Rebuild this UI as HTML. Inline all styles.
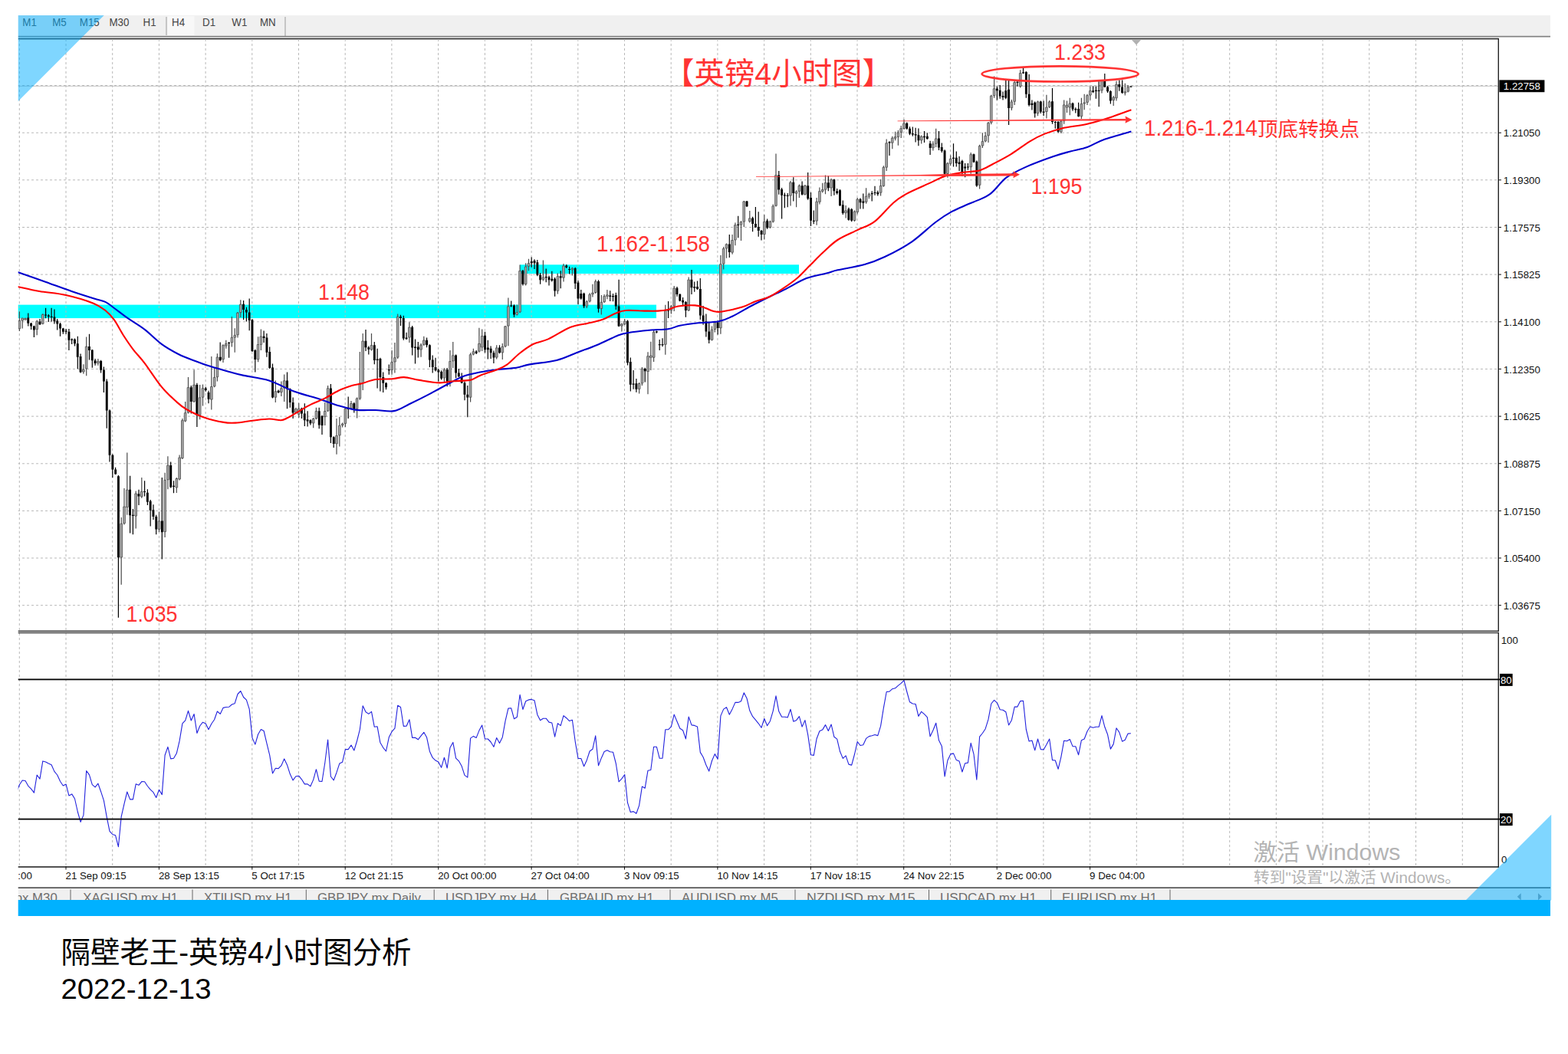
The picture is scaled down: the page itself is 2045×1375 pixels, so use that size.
<!DOCTYPE html>
<html><head><meta charset="utf-8"><title>GBP H4</title>
<style>html,body{margin:0;padding:0;background:#fff;}body{width:2045px;height:1375px;overflow:hidden;font-family:"Liberation Sans",sans-serif;}svg{display:block}</style>
</head><body>
<svg width="2045" height="1375" viewBox="0 0 2045 1375" font-family='"Liberation Sans", sans-serif'>
<rect x="0" y="0" width="2045" height="1375" fill="#fff"/>
<rect x="23.5" y="20" width="1998.5" height="27" fill="#f0f0f0"/>
<rect x="218.5" y="21" width="35" height="25" fill="#f8f8f8"/>
<rect x="216.5" y="22" width="1" height="24" fill="#9a9a9a"/>
<rect x="371.5" y="22" width="1" height="26" fill="#9a9a9a"/>
<text transform="translate(29.3,33.7) scale(0.92,1)" font-size="14.5" fill="#444" font-family='"Liberation Sans", sans-serif'>M1</text>
<text transform="translate(68.2,33.7) scale(0.92,1)" font-size="14.5" fill="#444" font-family='"Liberation Sans", sans-serif'>M5</text>
<text transform="translate(103.8,33.7) scale(0.92,1)" font-size="14.5" fill="#444" font-family='"Liberation Sans", sans-serif'>M15</text>
<text transform="translate(142.5,33.7) scale(0.92,1)" font-size="14.5" fill="#444" font-family='"Liberation Sans", sans-serif'>M30</text>
<text transform="translate(186.5,33.7) scale(0.92,1)" font-size="14.5" fill="#444" font-family='"Liberation Sans", sans-serif'>H1</text>
<text transform="translate(224,33.7) scale(0.92,1)" font-size="14.5" fill="#444" font-family='"Liberation Sans", sans-serif'>H4</text>
<text transform="translate(264,33.7) scale(0.92,1)" font-size="14.5" fill="#444" font-family='"Liberation Sans", sans-serif'>D1</text>
<text transform="translate(302.3,33.7) scale(0.92,1)" font-size="14.5" fill="#444" font-family='"Liberation Sans", sans-serif'>W1</text>
<text transform="translate(339,33.7) scale(0.92,1)" font-size="14.5" fill="#444" font-family='"Liberation Sans", sans-serif'>MN</text>
<rect x="23" y="46.8" width="1999" height="1.7" fill="#808080"/>
<rect x="23" y="49.8" width="1931.5" height="1.6" fill="#2a2a2a"/>
<rect x="23" y="397.6" width="833" height="17.5" fill="#00ffff"/>
<rect x="678" y="345.3" width="364" height="11.7" fill="#00ffff"/>
<path d="M1907.3 51 V822.5 M1907.3 826 V1130.5 M1846.6 51 V822.5 M1846.6 826 V1130.5 M1785.8 51 V822.5 M1785.8 826 V1130.5 M1725.1 51 V822.5 M1725.1 826 V1130.5 M1664.4 51 V822.5 M1664.4 826 V1130.5 M1603.7 51 V822.5 M1603.7 826 V1130.5 M1543 51 V822.5 M1543 826 V1130.5 M1482.3 51 V822.5 M1482.3 826 V1130.5 M1421.6 51 V822.5 M1421.6 826 V1130.5 M1360.9 51 V822.5 M1360.9 826 V1130.5 M1300.2 51 V822.5 M1300.2 826 V1130.5 M1239.5 51 V822.5 M1239.5 826 V1130.5 M1178.8 51 V822.5 M1178.8 826 V1130.5 M1118 51 V822.5 M1118 826 V1130.5 M1057.3 51 V822.5 M1057.3 826 V1130.5 M996.6 51 V822.5 M996.6 826 V1130.5 M935.9 51 V822.5 M935.9 826 V1130.5 M875.2 51 V822.5 M875.2 826 V1130.5 M814.5 51 V822.5 M814.5 826 V1130.5 M753.8 51 V822.5 M753.8 826 V1130.5 M693.1 51 V822.5 M693.1 826 V1130.5 M632.4 51 V822.5 M632.4 826 V1130.5 M571.6 51 V822.5 M571.6 826 V1130.5 M510.9 51 V822.5 M510.9 826 V1130.5 M450.2 51 V822.5 M450.2 826 V1130.5 M389.5 51 V822.5 M389.5 826 V1130.5 M328.8 51 V822.5 M328.8 826 V1130.5 M268.1 51 V822.5 M268.1 826 V1130.5 M207.4 51 V822.5 M207.4 826 V1130.5 M146.7 51 V822.5 M146.7 826 V1130.5 M86 51 V822.5 M86 826 V1130.5 M25.3 51 V822.5 M25.3 826 V1130.5 M23 111.5 H1954 M23 173.2 H1954 M23 234.8 H1954 M23 296.5 H1954 M23 358.1 H1954 M23 419.8 H1954 M23 481.4 H1954 M23 543.1 H1954 M23 604.8 H1954 M23 666.4 H1954 M23 728 H1954 M23 789.7 H1954" stroke="#b8b8b8" stroke-width="1" stroke-dasharray="3 3" fill="none"/>
<rect x="23" y="111.8" width="1931" height="1" fill="#c2c2c2"/>
<rect x="1953.6" y="50" width="1.4" height="774.1" fill="#222"/>
<rect x="1953.6" y="825" width="1.4" height="306.6" fill="#222"/>
<rect x="23" y="1130.2" width="1932" height="1.5" fill="#1a1a1a"/>
<rect x="23" y="822.6" width="1932" height="1.5" fill="#2c2c2c"/>
<rect x="23" y="825" width="1932" height="1.2" fill="#2c2c2c"/>
<path d="M36.8 408.6 V425.5 M40.6 421.1 V429.9 M44.4 424.7 V439.9 M52 415.9 V424 M59.6 401.7 V415.2 M63.3 410.1 V419.9 M67.1 401.7 V419.6 M70.9 403.5 V422.5 M74.7 415.9 V430.6 M78.5 421.1 V438.7 M82.3 427.7 V435.7 M86.1 429.1 V435.7 M89.9 429.1 V457 M93.7 441.6 V448.9 M97.5 441.6 V451.4 M101.3 438.7 V481.2 M105.1 461.4 V486.4 M116.5 435.7 V469.5 M120.3 456 V479.8 M124.1 468 V476.8 M131.6 469.8 V486.4 M135.4 478.6 V512 M139.2 494.4 V558.7 M143 534.3 V602.5 M146.8 592.6 V623 M150.6 609.8 V619 M154.4 620.1 V805.7 M169.6 620.8 V695.4 M173.4 664.1 V697.2 M181 638.8 V659.1 M188.6 627.2 V647.6 M192.4 638.2 V659.1 M196.2 652 V686.6 M200 658.2 V678 M203.7 671.8 V697.2 M211.3 623 V729.5 M222.7 602.5 V636.6 M226.5 627.2 V643.2 M249.3 503.1 V539.5 M256.9 499.8 V557.1 M268.3 504.7 V510.8 M272 509.7 V526.2 M287.2 446.6 V471.2 M298.6 445.9 V466.8 M317.6 392 V417.3 M321.4 400.8 V419.5 M325.2 389.4 V431.2 M329 416.2 V459.1 M332.8 455.8 V485.5 M344.1 431.6 V447 M347.9 434.9 V465.7 M351.7 452.5 V481.1 M355.5 474.5 V519.6 M363.1 508.6 V513 M374.5 485.5 V533.3 M378.3 506.4 V531.8 M382.1 518.5 V546.1 M393.5 531.8 V546.1 M397.3 526.2 V556 M401.1 536.2 V556.6 M404.9 547.2 V554.4 M416.2 531.8 V559.3 M420 541.7 V567 M431.4 500.9 V578 M435.2 569.2 V583.9 M454.2 517.4 V546.1 M461.8 525.1 V538.4 M477 429.9 V458 M480.8 451.4 V462.4 M488.3 445.9 V475.2 M492.1 454.7 V506.4 M495.9 466.8 V510.4 M499.7 485.5 V511.9 M503.5 498.7 V508.2 M507.3 475.6 V488.8 M522.5 410.7 V425 M526.3 411.8 V443.7 M530.1 433.8 V443.1 M537.7 425 V463.5 M541.5 442.6 V474.5 M545.3 445.9 V466.4 M556.6 440.4 V453.2 M560.4 449.2 V478.9 M564.2 463.5 V486.6 M568 466.8 V484.4 M571.8 481.1 V497.6 M575.6 483.3 V495.4 M583.2 480 V504.2 M594.6 462.4 V493.2 M598.4 481.1 V492.1 M602.2 486.6 V500.3 M606 497.6 V522.3 M609.8 503.1 V544.3 M621.2 456.9 V462 M632.5 432.7 V460.2 M636.3 443.7 V468.6 M640.1 451.4 V467.9 M643.9 457.6 V473.9 M651.5 450.3 V461.3 M666.7 392.4 V400.6 M670.5 397.3 V413.8 M681.9 352.1 V372.6 M693.2 335.6 V348.8 M697 338.3 V351 M700.8 338.9 V360.3 M704.6 355.9 V370.8 M712.2 350.6 V368.2 M716 359.8 V372.6 M719.8 353.7 V367.5 M723.6 362 V386.7 M731.2 353.2 V376.3 M738.8 344.9 V349.9 M742.6 347.7 V357.6 M750.2 348.8 V377 M754 366 V397.3 M757.8 377.9 V390.7 M761.6 381.8 V402.1 M780.5 365.3 V407.8 M795.7 379.2 V392.9 M799.5 382.9 V393.3 M803.3 381.8 V403.9 M807.1 364.7 V426.3 M818.5 417.5 V476.5 M822.3 466.6 V510.6 M826.1 483.1 V507.7 M829.9 494.1 V511.7 M841.2 479.8 V498.5 M856.4 431.4 V434.7 M860.2 443 V457.1 M864 441.3 V452.3 M871.6 392.9 V414.9 M883 374.1 V386.7 M886.8 382.9 V393.3 M890.6 388 V399.5 M894.4 392.9 V413.8 M902 352.1 V384 M905.7 367.5 V380.7 M909.5 366.4 V377.9 M913.3 363.1 V417.1 M917.1 399 V423.7 M920.9 409.4 V439.5 M924.7 421 V447.9 M936.1 418.8 V436.4 M951.3 305.9 V336.1 M962.7 281.7 V310.3 M974 261.9 V270.1 M981.6 282.8 V302.2 M985.4 270.1 V297.1 M989.2 276.2 V308.8 M993 300 V313.6 M1000.6 285.6 V298.8 M1015.8 222.9 V253.7 M1019.6 244.9 V285.6 M1023.4 251.5 V271.3 M1027.2 251.9 V270.2 M1034.8 231.2 V262.5 M1046.1 236.5 V254.8 M1053.7 225.1 V260.7 M1057.5 251 V295 M1061.3 274.6 V292.2 M1080.3 229.5 V249.3 M1087.9 233.4 V254.8 M1091.7 246 V253.7 M1095.5 247.1 V269.1 M1099.3 261.4 V280.1 M1106.9 270.8 V287.8 M1110.7 271.7 V289.3 M1122 258.5 V272.4 M1125.8 252.6 V272.4 M1137.2 249.3 V262.5 M1141 242.7 V254.8 M1144.8 248.8 V255.4 M1160 184.3 V203 M1182.8 159.5 V168.9 M1186.5 165.2 V176.2 M1190.3 165.6 V177.7 M1194.1 166.7 V185.4 M1197.9 167.4 V190.3 M1205.5 171.1 V185.9 M1209.3 173.3 V182.1 M1213.1 183.7 V201.9 M1224.5 171.1 V196 M1228.3 186.5 V199.1 M1232.1 195.3 V227.7 M1243.5 187.2 V217.4 M1247.3 197.5 V217.4 M1251.1 204.1 V222.9 M1254.9 208.5 V229.9 M1258.6 212.9 V231.2 M1262.4 212.9 V221.8 M1270 200.4 V212.3 M1273.8 209.6 V243.8 M1300.4 112.8 V130.4 M1304.2 111.1 V128.7 M1308 119.4 V130.4 M1311.8 105.1 V129.3 M1315.6 105.1 V163 M1326.9 105.1 V112.8 M1334.5 89 V96.3 M1338.3 93 V127.8 M1342.1 97 V138.8 M1345.9 130.4 V143.6 M1349.7 132.6 V153.5 M1357.3 131.5 V148 M1361.1 131.5 V151.3 M1372.5 115 V161.7 M1376.3 157.9 V167.8 M1380.1 157.9 V173.3 M1399 133.7 V144.7 M1402.8 140.3 V147.6 M1406.6 133.7 V152.4 M1425.6 112.4 V121.2 M1429.4 112.8 V128.7 M1433.2 105.1 V139.2 M1440.8 96 V114 M1444.6 112.2 V121 M1448.4 118.1 V135.4 M1459.8 104.6 V118.7 M1463.6 104.6 V122.2 M1474.9 112.7 V113.6" stroke="#000" stroke-width="1.2" fill="none"/>
<path d="M25.4 406.4 V432.1 M29.2 414.8 V428.4 M33 414.5 V417.8 M48.2 417.4 V437.2 M55.8 409.3 V423.3 M108.9 475.3 V487.8 M112.7 439.4 V490.3 M127.9 468 V476.8 M158.2 675.1 V762.7 M162 637.1 V684.6 M165.8 590.4 V671.8 M177.2 640.6 V689.5 M184.8 623 V649.8 M207.5 667.4 V693.9 M215.1 616.8 V700.9 M218.9 595.3 V638.2 M230.3 623.1 V642.9 M234.1 593.4 V626.4 M237.9 546.1 V598.9 M241.7 524 V550.5 M245.5 492.1 V539.5 M253.1 482.2 V525.1 M260.7 502 V547.2 M264.5 501.6 V529.6 M275.8 465.1 V534.6 M279.6 480 V505.3 M283.4 461.3 V497.6 M291 449.2 V473 M294.8 443.7 V454.7 M302.4 412.9 V452.5 M306.2 428.3 V459.8 M310 407 V440.4 M313.8 391.3 V414 M336.6 439.3 V472.3 M340.4 429.4 V456.9 M359.3 496.5 V525.1 M366.9 497.6 V517 M370.7 488.4 V524 M385.9 531.8 V539.5 M389.7 525.8 V545 M408.7 545 V558.2 M412.4 531.8 V547.2 M423.8 525.1 V554.9 M427.6 503.1 V537.3 M439 546.1 V592.7 M442.8 543.9 V582.4 M446.6 551.6 V557.5 M450.4 531.8 V557.1 M458 522.9 V534 M465.6 518.5 V545.6 M469.4 459.1 V521.8 M473.2 434.9 V509.1 M484.5 434.9 V457.6 M511.1 456.9 V488.8 M514.9 447 V486.6 M518.7 409.6 V467.9 M533.9 420.2 V447 M549.1 448.1 V465.7 M552.8 438.7 V451 M579.4 480 V498.7 M587 456.9 V504.2 M590.8 445.9 V480 M613.6 460.2 V524.5 M617.4 454.7 V463.5 M624.9 427.7 V459.8 M628.7 429.4 V458 M647.7 450.3 V468.6 M655.3 448.1 V469 M659.1 425 V453.2 M662.9 388.5 V451.2 M674.3 397.5 V411.6 M678.1 345.5 V408.3 M685.7 343.3 V372.6 M689.5 337.8 V353.2 M708.4 339.6 V366.4 M727.4 356.5 V383.6 M735 344 V367.5 M746.4 348.8 V359.4 M765.3 391.8 V402.1 M769.1 382.3 V394.6 M772.9 370.8 V387.4 M776.7 364.7 V382.9 M784.3 385.1 V410.5 M788.1 384 V395.1 M791.9 377.9 V390.2 M810.9 421.5 V432.5 M814.7 416 V424.1 M833.6 498.9 V513.5 M837.4 479.1 V502.9 M845 459.3 V514.3 M848.8 445.7 V483.1 M852.6 430.7 V472.1 M867.8 397.7 V462.8 M875.4 397.7 V409.4 M879.2 373 V406.1 M898.2 361.6 V406.1 M928.5 425.4 V444.6 M932.3 418.8 V433.6 M939.9 333 V435.8 M943.7 322 V351.5 M947.5 317.6 V336.7 M955.1 305.9 V331.7 M958.9 290.5 V320.2 M966.5 288.3 V314.1 M970.3 261.9 V296 M977.8 275.1 V290.5 M996.8 280.2 V312.5 M1004.4 287.8 V298.1 M1008.2 266.4 V290.6 M1012 200.4 V269.5 M1031 236.1 V268.6 M1038.6 248.2 V270.2 M1042.4 240.5 V258.1 M1049.9 240.9 V254.8 M1065.1 258.1 V293.7 M1068.9 244.4 V266.4 M1072.7 238.7 V251.5 M1076.5 228.4 V253.2 M1084.1 232.8 V255.9 M1103.1 268 V284.5 M1114.5 274.6 V288.9 M1118.2 258.1 V279.6 M1129.6 245.3 V265.8 M1133.4 251.5 V259.2 M1148.6 233.9 V255.4 M1152.4 216.2 V243.8 M1156.2 181.5 V222.9 M1163.8 177.7 V194.2 M1167.6 171.8 V183.2 M1171.4 170 V189.8 M1175.2 163.9 V179.9 M1179 155.7 V168.9 M1201.7 176.6 V187.6 M1216.9 184.3 V196.4 M1220.7 167.8 V192 M1235.9 211.8 V231.7 M1239.7 202.6 V216.2 M1266.2 199.1 V226.8 M1277.6 188.7 V246.6 M1281.4 173.3 V193.1 M1285.2 172.2 V185.4 M1289 159 V185.9 M1292.8 123.8 V162.3 M1296.6 99.6 V127.8 M1319.4 130 V144.1 M1323.2 105.8 V137 M1330.7 91.2 V114.6 M1353.5 131.5 V151.3 M1364.9 123.8 V154.6 M1368.7 130.9 V141 M1383.9 156.8 V174 M1387.7 130.4 V161.7 M1391.5 131.5 V146.9 M1395.3 127.8 V150.2 M1410.4 127.8 V155.1 M1414.2 122.7 V143.2 M1418 122.7 V137 M1421.8 112.8 V130.4 M1437 104.6 V121.6 M1452.2 125.1 V138 M1456 105.8 V131.6 M1467.3 108.7 V124.5 M1471.1 111 V120.4" stroke="#4a4a4a" stroke-width="1.2" fill="none"/>
<path d="M35.3 414.5h2.9V421.8h-2.9zM39.1 421.8h2.9V425.5h-2.9zM42.9 425.5h2.9V430.6h-2.9zM50.5 419.6h2.9V423.3h-2.9zM58.1 410.4h2.9V411.6h-2.9zM61.9 411.5h2.9V413h-2.9zM65.7 412.8h2.9V414h-2.9zM69.5 413.4h2.9V419.3h-2.9zM73.3 418.4h2.9V422.5h-2.9zM77.1 422.5h2.9V428.4h-2.9zM80.9 428.4h2.9V432.8h-2.9zM84.7 431.5h2.9V432.7h-2.9zM88.5 432.8h2.9V443.8h-2.9zM92.3 442.5h2.9V443.7h-2.9zM96 442.8h2.9V448.2h-2.9zM99.8 448.2h2.9V465.8h-2.9zM103.6 465.1h2.9V485.6h-2.9zM115 451.9h2.9V457h-2.9zM118.8 456.6h2.9V470.2h-2.9zM122.6 470.2h2.9V473.9h-2.9zM130.2 470.9h2.9V482.7h-2.9zM134 482.4h2.9V497.4h-2.9zM137.8 497.4h2.9V535.5h-2.9zM141.6 535.4h2.9V593.7h-2.9zM145.4 593.7h2.9V612.4h-2.9zM149.2 612.4h2.9V618.4h-2.9zM153 621.2h2.9V727.3h-2.9zM168.1 638.8h2.9V672.3h-2.9zM171.9 671.7h2.9V672.9h-2.9zM179.5 644.3h2.9V647.6h-2.9zM187.1 640.9h2.9V642.1h-2.9zM190.9 642.8h2.9V654.7h-2.9zM194.7 653.8h2.9V665.7h-2.9zM198.5 665.2h2.9V674h-2.9zM202.3 674h2.9V690.6h-2.9zM209.9 679.6h2.9V694.3h-2.9zM221.3 606.9h2.9V635.5h-2.9zM225.1 633.8h2.9V635h-2.9zM247.8 505.3h2.9V524h-2.9zM255.4 502h2.9V541.7h-2.9zM266.8 506.4h2.9V509.1h-2.9zM270.6 511.9h2.9V520.7h-2.9zM285.8 465.7h2.9V470.1h-2.9zM297.2 446.9h2.9V448.1h-2.9zM316.1 396.8h2.9V404.1h-2.9zM319.9 404.1h2.9V407.4h-2.9zM323.7 407.4h2.9V418h-2.9zM327.5 417.3h2.9V458h-2.9zM331.3 456.9h2.9V469h-2.9zM342.7 438.7h2.9V440.9h-2.9zM346.5 440.4h2.9V459.8h-2.9zM350.3 459.1h2.9V480h-2.9zM354.1 479.6h2.9V518.5h-2.9zM361.7 509.7h2.9V511.9h-2.9zM373.1 496.5h2.9V507.5h-2.9zM376.8 507.5h2.9V525.1h-2.9zM380.6 525.1h2.9V538.4h-2.9zM392 532.9h2.9V539.5h-2.9zM395.8 539.5h2.9V548.3h-2.9zM399.6 547.2h2.9V549.4h-2.9zM403.4 548.3h2.9V552.2h-2.9zM414.8 536.2h2.9V554.4h-2.9zM418.6 542.8h2.9V554.9h-2.9zM430 506.4h2.9V570.3h-2.9zM433.8 570.3h2.9V579.1h-2.9zM452.7 531.8h2.9V534h-2.9zM460.3 526.2h2.9V534h-2.9zM475.5 444.8h2.9V453.2h-2.9zM479.3 453.2h2.9V455.8h-2.9zM486.9 450.3h2.9V470.1h-2.9zM490.7 468.6h2.9V470.1h-2.9zM494.5 467.9h2.9V492.1h-2.9zM498.3 492.1h2.9V499.8h-2.9zM502.1 499.8h2.9V505.3h-2.9zM505.9 482.1h2.9V483.3h-2.9zM521 412.9h2.9V415.1h-2.9zM524.8 415.1h2.9V441.5h-2.9zM528.6 440.4h2.9V442.2h-2.9zM536.2 426.8h2.9V453.6h-2.9zM540 452.5h2.9V454.1h-2.9zM543.8 452.5h2.9V456.3h-2.9zM555.2 443.7h2.9V450.3h-2.9zM559 450.3h2.9V469.5h-2.9zM562.8 469.5h2.9V478.9h-2.9zM566.6 478.9h2.9V483.3h-2.9zM570.4 482.7h2.9V485.5h-2.9zM574.2 484.9h2.9V493.7h-2.9zM581.8 482.2h2.9V497.6h-2.9zM593.1 463.5h2.9V486.6h-2.9zM596.9 486.6h2.9V491h-2.9zM600.7 491h2.9V499.4h-2.9zM604.5 499.4h2.9V514.8h-2.9zM608.3 514.8h2.9V518.5h-2.9zM619.7 458.5h2.9V460.7h-2.9zM631.1 437.8h2.9V456.3h-2.9zM634.9 453.6h2.9V456.3h-2.9zM638.7 454.7h2.9V460.2h-2.9zM642.5 460.2h2.9V466.4h-2.9zM650.1 453.6h2.9V460.2h-2.9zM665.2 398.4h2.9V399.6h-2.9zM669 398.4h2.9V410.5h-2.9zM680.4 353.2h2.9V370.8h-2.9zM691.8 341.1h2.9V343.3h-2.9zM695.6 340h2.9V343.3h-2.9zM699.4 342.2h2.9V358.7h-2.9zM703.2 358.7h2.9V365.3h-2.9zM710.8 361h2.9V362.2h-2.9zM714.6 361.6h2.9V365.3h-2.9zM718.4 363.8h2.9V366h-2.9zM722.2 363.8h2.9V379.6h-2.9zM729.7 360.3h2.9V362.5h-2.9zM737.3 346.6h2.9V348.8h-2.9zM741.1 350.9h2.9V352.1h-2.9zM748.7 349.9h2.9V369.7h-2.9zM752.5 368.6h2.9V389.6h-2.9zM756.3 382.9h2.9V389.6h-2.9zM760.1 382.9h2.9V399.5h-2.9zM779.1 366.9h2.9V402.8h-2.9zM794.3 385.6h2.9V386.9h-2.9zM798 386.1h2.9V387.3h-2.9zM801.8 385.1h2.9V399.5h-2.9zM805.6 399.5h2.9V425.4h-2.9zM817 418.8h2.9V473.2h-2.9zM820.8 472.1h2.9V501.8h-2.9zM824.6 500.5h2.9V501.7h-2.9zM828.4 500.2h2.9V507.7h-2.9zM839.8 480.9h2.9V484.2h-2.9zM855 432.3h2.9V433.5h-2.9zM858.8 449h2.9V450.2h-2.9zM862.6 449h2.9V450.2h-2.9zM870.1 404.4h2.9V405.6h-2.9zM881.5 375.7h2.9V384h-2.9zM885.3 384h2.9V392.4h-2.9zM889.1 391.8h2.9V394.6h-2.9zM892.9 394h2.9V405h-2.9zM900.5 364.7h2.9V375.2h-2.9zM904.3 374.1h2.9V375.7h-2.9zM908.1 374.1h2.9V377h-2.9zM911.9 377h2.9V411.6h-2.9zM915.7 411.6h2.9V419.3h-2.9zM919.5 419.3h2.9V432.5h-2.9zM923.3 432.5h2.9V443.5h-2.9zM934.7 420.4h2.9V428.1h-2.9zM949.8 318.5h2.9V329h-2.9zM961.2 292.8h2.9V294h-2.9zM972.6 262.6h2.9V269.2h-2.9zM980.2 284.6h2.9V292.1h-2.9zM984 292.1h2.9V296.5h-2.9zM987.8 296h2.9V300.9h-2.9zM991.6 300.9h2.9V305.9h-2.9zM999.2 287.8h2.9V297.2h-2.9zM1014.3 228.4h2.9V247.5h-2.9zM1018.1 247.1h2.9V254.8h-2.9zM1021.9 254.2h2.9V255.4h-2.9zM1025.7 254.8h2.9V256h-2.9zM1033.3 237.8h2.9V251.9h-2.9zM1044.7 242.2h2.9V253.7h-2.9zM1052.3 242.2h2.9V259.2h-2.9zM1056.1 258.1h2.9V287.8h-2.9zM1059.9 287.8h2.9V289h-2.9zM1078.8 238.3h2.9V245.3h-2.9zM1086.4 234.3h2.9V249.3h-2.9zM1090.2 249.3h2.9V251.9h-2.9zM1094 248.2h2.9V268h-2.9zM1097.8 267.3h2.9V277.9h-2.9zM1105.4 272.4h2.9V286.7h-2.9zM1109.2 273h2.9V287.8h-2.9zM1120.6 259.8h2.9V264.2h-2.9zM1124.4 262.5h2.9V264.7h-2.9zM1135.8 252h2.9V253.2h-2.9zM1139.6 250.9h2.9V252.1h-2.9zM1143.4 251h2.9V253.2h-2.9zM1158.5 185.3h2.9V186.5h-2.9zM1181.3 160.8h2.9V167.8h-2.9zM1185.1 167.8h2.9V174.4h-2.9zM1188.9 174h2.9V175.5h-2.9zM1192.7 174.9h2.9V176.6h-2.9zM1196.5 176.2h2.9V183.2h-2.9zM1204.1 177.7h2.9V179.3h-2.9zM1207.9 177.7h2.9V181h-2.9zM1211.7 187.2h2.9V193.1h-2.9zM1223 180.6h2.9V192.5h-2.9zM1226.8 192h2.9V196.9h-2.9zM1230.6 196.4h2.9V226.8h-2.9zM1242 205.7h2.9V206.9h-2.9zM1245.8 205.7h2.9V212.9h-2.9zM1249.6 211.4h2.9V214h-2.9zM1253.4 210.1h2.9V225.1h-2.9zM1257.2 217.4h2.9V219.6h-2.9zM1261 217.4h2.9V218.6h-2.9zM1268.6 201.3h2.9V211.4h-2.9zM1272.4 210.7h2.9V242.2h-2.9zM1298.9 115.5h2.9V118.3h-2.9zM1302.7 117.7h2.9V125.6h-2.9zM1306.5 124.9h2.9V127.1h-2.9zM1310.3 118.3h2.9V127.8h-2.9zM1314.1 116.8h2.9V141h-2.9zM1325.5 106.7h2.9V107.9h-2.9zM1333.1 94.2h2.9V95.4h-2.9zM1336.9 94.1h2.9V122.7h-2.9zM1340.7 122.7h2.9V137h-2.9zM1344.5 134.8h2.9V137h-2.9zM1348.3 133.7h2.9V148h-2.9zM1355.9 132.6h2.9V145.8h-2.9zM1359.6 145.4h2.9V146.9h-2.9zM1371 132.2h2.9V159h-2.9zM1374.8 158.9h2.9V160.1h-2.9zM1378.6 159h2.9V171.8h-2.9zM1397.6 134.8h2.9V142.5h-2.9zM1401.4 141.9h2.9V143.6h-2.9zM1405.2 141.9h2.9V152h-2.9zM1424.2 118.3h2.9V119.9h-2.9zM1428 117.7h2.9V118.9h-2.9zM1431.7 117.7h2.9V118.9h-2.9zM1439.3 105.2h2.9V113.4h-2.9zM1443.1 113.4h2.9V119.2h-2.9zM1446.9 119h2.9V131.6h-2.9zM1458.3 109.9h2.9V113.4h-2.9zM1462.1 113.4h2.9V121h-2.9zM1473.5 112.5h2.9V113.7h-2.9z" fill="#000"/>
<path d="M24 418.4h2.7V428.8h-2.7zM27.8 415.1h2.7V418.1h-2.7zM31.6 415.5h2.7V417.1h-2.7zM46.8 419.2h2.7V429.6h-2.7zM54.4 410.4h2.7V422.2h-2.7zM107.5 482.3h2.7V485h-2.7zM111.3 452.2h2.7V480.9h-2.7zM126.5 471.5h2.7V473.6h-2.7zM156.9 683.2h2.7V727h-2.7zM160.7 661.1h2.7V682.6h-2.7zM164.5 639.1h2.7V661.6h-2.7zM175.8 644h2.7V673.1h-2.7zM183.4 641.3h2.7V647.8h-2.7zM206.2 679.9h2.7V690.3h-2.7zM213.8 626.4h2.7V693.6h-2.7zM217.6 607.2h2.7V625.8h-2.7zM229 624.5h2.7V636h-2.7zM232.8 597h2.7V625h-2.7zM236.5 548.6h2.7V597.5h-2.7zM240.3 538.7h2.7V549.1h-2.7zM244.1 505.6h2.7V538.1h-2.7zM251.7 502.3h2.7V523.7h-2.7zM259.3 518.8h2.7V541.4h-2.7zM263.1 506.7h2.7V518.2h-2.7zM274.5 504.5h2.7V521.1h-2.7zM278.3 492.4h2.7V503.9h-2.7zM282.1 466h2.7V491.8h-2.7zM289.7 450.6h2.7V468.7h-2.7zM293.5 448.4h2.7V451.1h-2.7zM301.1 440.3h2.7V446.7h-2.7zM304.9 437.4h2.7V440.1h-2.7zM308.6 408.2h2.7V436.8h-2.7zM312.4 397.1h2.7V407.6h-2.7zM335.2 449.5h2.7V468.7h-2.7zM339 439h2.7V449.4h-2.7zM358 510.7h2.7V518.2h-2.7zM365.6 506.7h2.7V511.6h-2.7zM369.4 496.8h2.7V506.1h-2.7zM384.5 533.6h2.7V538.1h-2.7zM388.3 533.2h2.7V540.3h-2.7zM407.3 546.4h2.7V551.9h-2.7zM411.1 536.5h2.7V545.8h-2.7zM422.5 536.5h2.7V543.6h-2.7zM426.3 506.7h2.7V535.9h-2.7zM437.7 568.4h2.7V578.8h-2.7zM441.5 555.2h2.7V567.8h-2.7zM445.3 553h2.7V554.6h-2.7zM449 533.2h2.7V552.4h-2.7zM456.6 526.5h2.7V532.6h-2.7zM464.2 519.9h2.7V533.7h-2.7zM468 500.1h2.7V519.8h-2.7zM471.8 445.1h2.7V499.5h-2.7zM483.2 450.6h2.7V456h-2.7zM509.8 472.6h2.7V482.4h-2.7zM513.6 466.7h2.7V472h-2.7zM517.3 413.2h2.7V466.1h-2.7zM532.5 427.1h2.7V440.1h-2.7zM547.7 450h2.7V456h-2.7zM551.5 444h2.7V449.4h-2.7zM578.1 482.5h2.7V492.9h-2.7zM585.7 471.5h2.7V497.3h-2.7zM589.4 463.8h2.7V470.9h-2.7zM612.2 462.7h2.7V518.2h-2.7zM616 458.8h2.7V462.1h-2.7zM623.6 448.4h2.7V458.2h-2.7zM627.4 438.5h2.7V452.9h-2.7zM646.4 453.9h2.7V466.1h-2.7zM654 452.2h2.7V459.9h-2.7zM657.7 425.8h2.7V451.6h-2.7zM661.5 399.8h2.7V425.1h-2.7zM672.9 407.5h2.7V410.2h-2.7zM676.7 353.5h2.7V406.9h-2.7zM684.3 348h2.7V370.5h-2.7zM688.1 343.6h2.7V347.4h-2.7zM707.1 361.9h2.7V364.4h-2.7zM726.1 360.6h2.7V379.3h-2.7zM733.6 346.9h2.7V362.2h-2.7zM745 350.2h2.7V351.8h-2.7zM764 393.6h2.7V399.2h-2.7zM767.8 384.3h2.7V393h-2.7zM771.6 382.1h2.7V383.7h-2.7zM775.4 367.2h2.7V381.5h-2.7zM783 394.3h2.7V402.5h-2.7zM786.8 386.6h2.7V393.7h-2.7zM790.6 384.8h2.7V386.4h-2.7zM809.5 422.9h2.7V425.1h-2.7zM813.3 419.1h2.7V422.9h-2.7zM832.3 500.5h2.7V507.4h-2.7zM836.1 481.2h2.7V499.9h-2.7zM843.7 464.7h2.7V484.5h-2.7zM847.5 464h2.7V466.3h-2.7zM851.3 433.2h2.7V466.3h-2.7zM866.5 405.3h2.7V449.3h-2.7zM874 399.8h2.7V404.7h-2.7zM877.8 376h2.7V399.2h-2.7zM896.8 365h2.7V404.7h-2.7zM927.2 430.1h2.7V443.2h-2.7zM931 420.7h2.7V429.5h-2.7zM938.5 344.7h2.7V427.8h-2.7zM942.3 324.5h2.7V344.1h-2.7zM946.1 318.8h2.7V323.9h-2.7zM953.7 313.5h2.7V329.2h-2.7zM957.5 293.7h2.7V312.9h-2.7zM965.1 289.7h2.7V293.1h-2.7zM968.9 262.9h2.7V289.1h-2.7zM976.5 284.9h2.7V288.7h-2.7zM995.5 289.3h2.7V305.6h-2.7zM1003.1 289.2h2.7V296.3h-2.7zM1006.9 268.9h2.7V289h-2.7zM1010.6 228.7h2.7V268.3h-2.7zM1029.6 238.1h2.7V255.1h-2.7zM1037.2 250h2.7V252.3h-2.7zM1041 242.5h2.7V249.4h-2.7zM1048.6 242.5h2.7V253.4h-2.7zM1063.8 263.2h2.7V288.1h-2.7zM1067.6 249.6h2.7V263.3h-2.7zM1071.4 247.4h2.7V249.4h-2.7zM1075.2 238.6h2.7V247.2h-2.7zM1082.7 234.6h2.7V245h-2.7zM1101.7 274.9h2.7V277.6h-2.7zM1113.1 276h2.7V287.5h-2.7zM1116.9 260.1h2.7V276.5h-2.7zM1128.3 256.2h2.7V263.3h-2.7zM1132.1 253.5h2.7V256h-2.7zM1147.3 242.5h2.7V251.2h-2.7zM1151 218.3h2.7V242.4h-2.7zM1154.8 186.8h2.7V218.2h-2.7zM1162.4 180.2h2.7V186.2h-2.7zM1166.2 178.7h2.7V180.3h-2.7zM1170 173h2.7V178.5h-2.7zM1173.8 167.7h2.7V172.4h-2.7zM1177.6 161.1h2.7V167.5h-2.7zM1200.4 178h2.7V182.9h-2.7zM1215.6 187.9h2.7V192.8h-2.7zM1219.3 180.9h2.7V187.3h-2.7zM1234.5 213.2h2.7V226.5h-2.7zM1238.3 207.3h2.7V213.3h-2.7zM1264.9 201.6h2.7V217.7h-2.7zM1276.3 190.6h2.7V241.3h-2.7zM1280.1 184.6h2.7V190h-2.7zM1283.9 177.4h2.7V184h-2.7zM1287.7 160.4h2.7V176.8h-2.7zM1291.4 125.2h2.7V159.8h-2.7zM1295.2 115.8h2.7V124.6h-2.7zM1318 132.9h2.7V140.7h-2.7zM1321.8 107.6h2.7V132.3h-2.7zM1329.4 95.5h2.7V112.5h-2.7zM1352.2 132.9h2.7V147.7h-2.7zM1363.5 140h2.7V145.5h-2.7zM1367.3 132.9h2.7V139.4h-2.7zM1382.5 158.2h2.7V171.9h-2.7zM1386.3 136.9h2.7V157.6h-2.7zM1390.1 137.3h2.7V140h-2.7zM1393.9 135.1h2.7V140h-2.7zM1409.1 135.6h2.7V151.7h-2.7zM1412.9 134h2.7V135h-2.7zM1416.7 124.6h2.7V133.4h-2.7zM1420.5 118.6h2.7V124h-2.7zM1435.6 105.5h2.7V117.8h-2.7zM1450.8 127.2h2.7V130.7h-2.7zM1454.6 110.2h2.7V127.8h-2.7zM1466 119.8h2.7V121.1h-2.7zM1469.8 113.7h2.7V119.2h-2.7z" fill="#a6a6a6" stroke="#4c4c4c" stroke-width="0.8"/>
<path d="M23 355C29.2 357.2 48.3 363.8 60 368C71.7 372.2 82.8 376.4 93.3 380C103.8 383.6 115.3 387.2 122.7 389.5C130.1 391.8 133 391.8 137.4 393.9C141.8 396 144.1 398.4 149 402C153.9 405.6 160.1 410.6 166.7 415.2C173.3 419.8 181.4 424.3 188.7 429.9C196 435.5 203.4 443.5 210.7 448.9C218 454.2 225.4 458.3 232.7 462C240 465.7 247.8 468.4 254.7 471C261.6 473.6 266.7 475.5 274 477.8C281.3 480.1 291.4 482.9 298.7 484.9C306 486.9 309.3 488 318 489.9C326.7 491.8 340 493 351 496.5C362 500 373 506.8 384 510.8C395 514.8 407.8 517.8 417 520.7C426.2 523.6 431.3 526.1 439 528.4C446.7 530.7 454.9 533.5 463.3 534.6C471.8 535.7 481.3 534.8 489.7 535C498.1 535.2 506.6 537.4 513.9 536.1C521.2 534.8 526 531 533.7 527.3C541.4 523.6 551.2 518.7 560 514.1C568.8 509.5 579.2 503.7 586.5 499.8C593.8 495.9 597.4 493.4 604 491C610.6 488.6 618.7 487 626 485.5C633.3 484 640.1 483.1 648 482.2C655.9 481.2 666.1 480.9 673.2 479.8C680.3 478.7 682 477 690.8 475.4C699.6 473.8 715.7 472.5 726 469.9C736.3 467.3 743.6 463.3 752.4 460C761.2 456.7 770 453.7 778.8 450C787.6 446.3 798.6 440.6 805.2 438C811.8 435.4 811.4 435.4 818.4 434.2C825.4 433 838.2 431.5 847 430.7C855.8 429.9 864.7 430.2 871.3 429.2C877.9 428.2 880.5 426.1 886.7 424.8C892.9 423.5 900.3 422.4 908.7 421.5C917.1 420.6 929.6 420.8 937.3 419.3C945 417.8 947.9 416 954.9 412.7C961.9 409.4 970.9 403.7 979 399.5C987.1 395.3 996 390.9 1003.3 387.3C1010.6 383.7 1014.9 381.9 1023 377.9C1031.1 373.9 1042.5 366.7 1051.7 363.1C1060.9 359.5 1071.2 358.3 1078 356.5C1084.8 354.7 1084.1 354.2 1092.4 352.3C1100.7 350.4 1117.3 347.9 1127.6 345C1137.9 342.1 1143.7 339.9 1154 335C1164.3 330.1 1178.3 322.8 1189.3 315.3C1200.3 307.8 1211.2 296.6 1220 290C1228.8 283.4 1234.7 279.7 1242 275.7C1249.3 271.7 1255.9 269.5 1264 265.8C1272.1 262.1 1282.4 259.4 1290.5 253.7C1298.6 248 1304.4 237.8 1312.5 231.7C1320.6 225.6 1328.8 222 1339 217.4C1349.2 212.8 1364.5 207.3 1374 204C1383.5 200.7 1388.7 199.5 1396 197.5C1403.3 195.5 1410.7 194.6 1418 192C1425.3 189.4 1430.4 185.4 1440 182C1449.6 178.6 1469.5 173.2 1475.4 171.5" fill="none" stroke="#0000cd" stroke-width="2.1"/>
<path d="M23 374C27.8 375 41 378.2 51.5 380C62 381.8 74.4 382.4 86 385C97.6 387.6 112.6 392.1 121.2 395.4C129.8 398.7 132.8 401.3 137.4 405C142 408.7 145.1 412 149 417.4C152.9 422.8 156.6 430.7 160.8 437.2C165 443.7 169.3 450.2 174 456.3C178.7 462.4 182.6 465.8 188.7 473.9C194.8 482 203.8 496.3 210.7 504.7C217.6 513 224.6 519.1 230 524C235.4 528.9 237 530.5 243.2 534C249.4 537.5 259.3 542.2 267.4 545C275.5 547.8 285 549.8 291.6 550.9C298.2 552 300.8 552 307 551.6C313.2 551.2 321.7 549.6 329 548.7C336.3 547.9 344.8 546.6 351 546.5C357.2 546.4 362.4 548.5 366.4 548.3C370.4 548 371.5 546.8 375.2 545C378.9 543.2 383.3 540.2 388.4 537.3C393.5 534.4 400.1 530.3 406 527.4C411.9 524.5 417.8 522.6 423.7 519.6C429.6 516.6 435.4 512.5 441.3 509.7C447.2 506.9 453.8 504.7 458.9 503.1C464 501.5 466.9 501.7 472 500.3C477.1 498.9 483.1 496 489.7 495C496.3 494 505.5 494.8 511.7 494.3C517.9 493.8 521.1 491.8 527 492.1C532.9 492.4 539.2 494.7 546.9 495.9C554.6 497.1 566 499.2 573.3 499.4C580.6 499.6 584.3 497.8 590.9 497.2C597.5 496.6 607 497.1 612.9 495.9C618.8 494.7 620.1 492.2 626 489.9C631.9 487.6 642.1 484.6 648 482.2C653.9 479.8 656.4 479.1 661.3 475.6C666.2 472.1 672 465.4 677.6 461C683.2 456.6 689 452.1 695.2 449C701.4 445.9 706.9 446.1 715 442.4C723.1 438.7 735.2 430.4 743.6 427C752 423.6 758.6 423.6 765.6 421.9C772.6 420.2 779.2 419.2 785.4 417C791.6 414.8 797.9 410.7 803 408.7C808.1 406.7 810 405.5 816.2 405C822.5 404.5 833.5 405.5 840.5 405.6C847.5 405.7 852.9 405.9 858 405.6C863.1 405.3 866.9 404.9 871.3 403.9C875.7 402.9 878.6 400.4 884.5 399.5C890.4 398.6 900.6 398 906.5 398.4C912.4 398.8 915.7 400.4 919.7 401.7C923.7 403 927 405.2 930.7 406C934.4 406.8 935.5 407.4 941.7 406.5C947.9 405.6 960.7 402.9 968 400.6C975.3 398.3 979.8 395.1 985.7 392.9C991.6 390.7 997.1 390.2 1003.3 387.3C1009.5 384.4 1016.8 379.4 1023 375.2C1029.2 371 1035.2 366.8 1040.7 362C1046.2 357.2 1050.5 352.1 1056 346.6C1061.5 341.1 1067.6 334.6 1073.7 329C1079.8 323.4 1084.9 317.9 1092.4 313C1099.9 308.1 1110.7 303.9 1118.8 299.9C1126.9 295.9 1133.1 294.8 1140.8 288.9C1148.5 283 1158 270.8 1165 264.7C1172 258.6 1175 256.8 1182.7 252.6C1190.4 248.4 1202.9 243.2 1211.3 239.4C1219.7 235.6 1226 231.9 1233.3 229.5C1240.6 227.1 1248 226.2 1255.3 225C1262.6 223.8 1270.7 224.2 1277.3 222.4C1283.9 220.6 1288 217.6 1294.9 214C1301.9 210.4 1310.9 205.8 1319 200.8C1327.1 195.9 1336 188.7 1343.3 184.3C1350.6 179.9 1356 177.2 1363 174.4C1370 171.6 1375.8 169.5 1385 167.4C1394.2 165.3 1407.2 164.2 1418 161.7C1428.8 159.2 1440.4 155.5 1450 152.4C1459.6 149.3 1471.2 144.8 1475.4 143.3" fill="none" stroke="#ff0000" stroke-width="2.1"/>
<polyline points="21.6,1033.2 25.4,1023.8 29.2,1018 33,1018.5 36.8,1025.3 40.6,1029.1 44.4,1034.2 48.2,1011 52,1016.1 55.8,992.9 59.6,994.1 63.3,996 67.1,997.7 70.9,1006.4 74.7,1011 78.5,1019.2 82.3,1025 86.1,1023.1 89.9,1037.9 93.7,1035.9 97.5,1042 101.3,1059 105.1,1072.4 108.9,1063.4 112.7,1005.6 116.5,1010.9 120.3,1023.6 124.1,1026.8 127.9,1022.2 131.6,1032.7 135.4,1044.3 139.2,1065.7 143,1084.3 146.8,1088.5 150.6,1089.8 154.4,1104.7 158.2,1065.3 162,1048.6 165.8,1033 169.6,1042.9 173.4,1042.9 177.2,1022.8 181,1024.3 184.8,1019.6 188.6,1019.7 192.4,1025.5 196.2,1030.2 200,1033.7 203.7,1040.5 207.5,1030.2 211.3,1036.6 215.1,985.3 218.9,974.4 222.7,989.9 226.5,989.2 230.3,982.8 234.1,966.7 237.9,943.9 241.7,939.8 245.5,927.3 249.3,940 253.1,931.6 256.9,956.5 260.7,947 264.5,942.2 268.3,943.9 272,951.7 275.8,944.2 279.6,938.8 283.4,928 287.2,931.4 291,923.4 294.8,922.5 298.6,922.3 302.4,919 306.2,917.7 310,905.5 313.8,901.5 317.6,909.5 321.4,913.2 325.2,925.1 329,962.6 332.8,971.1 336.6,958 340.4,951.5 344.1,953.5 347.9,969.7 351.7,985.1 355.5,1008.9 359.3,1002.3 363.1,1002.6 366.9,998.7 370.7,989.9 374.5,997.9 378.3,1009.8 382.1,1017.9 385.9,1012.7 389.7,1012.2 393.5,1016.8 397.3,1022.9 401.1,1022.9 404.9,1025.8 408.7,1017.1 412.4,1003.7 416.2,1019.1 420,1019.5 423.8,995 427.6,965 431.4,1013 435.2,1017.9 439,1007.7 442.8,996.1 446.6,994.2 450.4,977.6 454.2,977.6 458,972 461.8,979 465.6,966.5 469.4,951.3 473.2,920.8 477,928.8 480.8,931.4 484.5,928.4 488.3,948.3 492.1,947.8 495.9,968.8 499.7,975.3 503.5,980 507.3,961.8 511.1,954.4 514.9,950.2 518.7,920.3 522.5,922.5 526.3,947.4 530.1,947.3 533.9,938.7 537.7,962.4 541.5,962.2 545.3,964.8 549.1,959.8 552.8,955.3 556.6,962.1 560.4,980.2 564.2,988.4 568,992.1 571.8,994.1 575.6,1001.3 579.4,988.2 583.2,1002 587,975.2 590.8,968.4 594.6,989.2 598.4,992.8 602.2,999.6 606,1011.4 609.8,1014.1 613.6,963.1 617.4,960.4 621.2,962.4 624.9,953.1 628.7,946.1 632.5,964 636.3,964 640.1,968 643.9,974.3 647.7,962.5 651.5,969.6 655.3,961.7 659.1,940.4 662.9,924.1 666.7,923.8 670.5,937.8 674.3,935.5 678.1,906.4 681.9,925.5 685.7,914.8 689.5,912.9 693.2,912.4 697,913.7 700.8,932.2 704.6,939.7 708.4,937.2 712.2,937.2 716,942.1 719.8,943 723.6,961.2 727.4,943.7 731.2,946.6 735,933.6 738.8,936.7 742.6,940.6 746.4,939.2 750.2,967.3 754,989.5 757.8,989.5 761.6,999.8 765.3,991.7 769.1,980 772.9,977.3 776.7,959.9 780.5,998.8 784.3,988.9 788.1,980.6 791.9,978.7 795.7,980.7 799.5,981.2 803.3,996 807.1,1019.9 810.9,1015.9 814.7,1010.5 818.5,1047.2 822.3,1059.5 826.1,1058.6 829.9,1061.3 833.6,1050.9 837.4,1026.1 841.2,1028.2 845,1005.2 848.8,1004.5 852.6,974.3 856.4,974.3 860.2,989.3 864,989.3 867.8,951.8 871.6,951.8 875.4,947.8 879.2,932.1 883,941.3 886.8,950.3 890.6,952.7 894.4,963.9 898.2,935.1 902,945.9 905.7,946.4 909.5,947.9 913.3,981.4 917.1,987.7 920.9,998 924.7,1006.1 928.5,992.5 932.3,983.6 936.1,990.1 939.9,933.9 943.7,925.1 947.5,922.7 951.3,932.2 955.1,924.9 958.9,916.4 962.7,916.4 966.5,914.7 970.3,903.7 974,910.9 977.8,927.1 981.6,934.7 985.4,939.2 989.2,943.8 993,949.3 996.8,937.5 1000.6,946.7 1004.4,940.7 1008.2,927.7 1012,907.8 1015.8,928.1 1019.6,935.3 1023.4,935.3 1027.2,936 1031,925.3 1034.8,941.2 1038.6,939.7 1042.4,934.6 1046.1,948.1 1049.9,939.6 1053.7,958.6 1057.5,984.8 1061.3,985.4 1065.1,963.7 1068.9,953.7 1072.7,952.1 1076.5,945.6 1080.3,953.4 1084.1,945 1087.9,961.3 1091.7,964.1 1095.5,980.3 1099.3,989.4 1103.1,985.9 1106.9,997.1 1110.7,998.1 1114.5,984 1118.2,967.6 1122,972.5 1125.8,971.7 1129.6,963.4 1133.4,960.6 1137.2,959.8 1141,958.5 1144.8,959.6 1148.6,947.2 1152.4,923.4 1156.2,902.5 1160,902.1 1163.8,898.7 1167.6,897.8 1171.4,894.4 1175.2,891.4 1179,887.7 1182.8,902.5 1186.5,915.8 1190.3,918 1194.1,918.5 1197.9,934.4 1201.7,928.3 1205.5,931.7 1209.3,935.6 1213.1,960.8 1216.9,952.8 1220.7,943.2 1224.5,965.8 1228.3,973.4 1232.1,1012.9 1235.9,992 1239.7,983.9 1243.5,982.9 1247.3,991.6 1251.1,993.1 1254.9,1007 1258.6,995.8 1262.4,995.1 1266.2,969.3 1270,983.8 1273.8,1017.2 1277.6,961.2 1281.4,956.5 1285.2,950.7 1289,938.4 1292.8,918 1296.6,913.4 1300.4,916.8 1304.2,925.8 1308,926.3 1311.8,928.7 1315.6,946 1319.4,939.4 1323.2,922.1 1326.9,922.1 1330.7,914.6 1334.5,914.3 1338.3,951.5 1342.1,967 1345.9,966 1349.7,978.8 1353.5,964 1357.3,977.6 1361.1,977.9 1364.9,971.2 1368.7,964 1372.5,991.6 1376.3,992 1380.1,1003.3 1383.9,987.3 1387.7,966.2 1391.5,966.7 1395.3,964.5 1399,973.6 1402.8,973.8 1406.6,984.8 1410.4,965.7 1414.2,964 1418,954 1421.8,948 1425.6,949.2 1429.4,948.3 1433.2,948.3 1437,933.6 1440.8,948.3 1444.6,958.3 1448.4,977.1 1452.2,970.6 1456,949.8 1459.8,955.4 1463.6,967.2 1467.3,965.2 1471.1,957.1 1474.9,956.8" fill="none" stroke="#2222dd" stroke-width="1.1" stroke-linejoin="round"/>
<rect x="23" y="885.5" width="1933" height="1.8" fill="#000"/>
<rect x="23" y="1067.7" width="1933" height="1.8" fill="#000"/>
<ellipse cx="1382.6" cy="96.4" rx="102" ry="10.1" fill="none" stroke="#ff3333" stroke-width="2.7"/>
<polygon points="1170.6,157.5 1260,156.8 1400,155.6 1466,154.9 1468.5,154.9 1468.5,157.5 1466,157.6 1400,157.6 1260,158 1170.6,158.3" fill="#ff3333"/><polygon points="1476.5,156.2 1467.5,151.6 1468.3,156.2 1467.5,160.8" fill="#ff3333"/>
<polygon points="986,230.2 1120,228.9 1200,228.1 1235,227.1 1320,226.2 1322.4,226.2 1322.4,229.4 1320,229.4 1235,229.9 1200,229.6 1120,230.1 986,231" fill="#ff3333"/><polygon points="1330,227.7 1321.4,223.3 1322.2,227.8 1321.4,232.3" fill="#ff3333"/>
<text x="1375" y="77.9" font-size="29.5" fill="#ff3333" textLength="67" lengthAdjust="spacingAndGlyphs" font-family='"Liberation Sans", sans-serif'>1.233</text>
<text x="1492" y="176.7" font-size="29.5" fill="#ff3333" textLength="148" lengthAdjust="spacingAndGlyphs" font-family='"Liberation Sans", sans-serif'>1.216-1.214</text>
<text x="1640" y="177.5" font-size="26.7" fill="#ff3333" textLength="133" lengthAdjust="spacingAndGlyphs" font-family='"Liberation Sans", "Noto Sans CJK SC", sans-serif'>顶底转换点</text>
<text x="1344.5" y="252.7" font-size="29.5" fill="#ff3333" textLength="67" lengthAdjust="spacingAndGlyphs" font-family='"Liberation Sans", sans-serif'>1.195</text>
<text x="778" y="327.7" font-size="29.5" fill="#ff3333" textLength="148" lengthAdjust="spacingAndGlyphs" font-family='"Liberation Sans", sans-serif'>1.162-1.158</text>
<text x="415" y="391.2" font-size="29.5" fill="#ff3333" textLength="67" lengthAdjust="spacingAndGlyphs" font-family='"Liberation Sans", sans-serif'>1.148</text>
<text x="164.5" y="811.4" font-size="29.5" fill="#ff3333" textLength="67" lengthAdjust="spacingAndGlyphs" font-family='"Liberation Sans", sans-serif'>1.035</text>
<text x="866" y="109.9" font-size="39.5" fill="#ff3333" textLength="298" lengthAdjust="spacingAndGlyphs" font-family='"Liberation Sans", "Noto Sans CJK SC", sans-serif'>【英镑4小时图】</text>
<polygon points="1475,51 1489,51 1482,58.5" fill="#b0b0b0"/>
<rect x="1954" y="172.7" width="4" height="1" fill="#111"/>
<text x="1960.8" y="178.4" font-size="13.3" fill="#111" font-family='"Liberation Sans", sans-serif'>1.21050</text>
<rect x="1954" y="234.3" width="4" height="1" fill="#111"/>
<text x="1960.8" y="240" font-size="13.3" fill="#111" font-family='"Liberation Sans", sans-serif'>1.19300</text>
<rect x="1954" y="296" width="4" height="1" fill="#111"/>
<text x="1960.8" y="301.7" font-size="13.3" fill="#111" font-family='"Liberation Sans", sans-serif'>1.17575</text>
<rect x="1954" y="357.6" width="4" height="1" fill="#111"/>
<text x="1960.8" y="363.3" font-size="13.3" fill="#111" font-family='"Liberation Sans", sans-serif'>1.15825</text>
<rect x="1954" y="419.3" width="4" height="1" fill="#111"/>
<text x="1960.8" y="425" font-size="13.3" fill="#111" font-family='"Liberation Sans", sans-serif'>1.14100</text>
<rect x="1954" y="480.9" width="4" height="1" fill="#111"/>
<text x="1960.8" y="486.6" font-size="13.3" fill="#111" font-family='"Liberation Sans", sans-serif'>1.12350</text>
<rect x="1954" y="542.6" width="4" height="1" fill="#111"/>
<text x="1960.8" y="548.3" font-size="13.3" fill="#111" font-family='"Liberation Sans", sans-serif'>1.10625</text>
<rect x="1954" y="604.2" width="4" height="1" fill="#111"/>
<text x="1960.8" y="610" font-size="13.3" fill="#111" font-family='"Liberation Sans", sans-serif'>1.08875</text>
<rect x="1954" y="665.9" width="4" height="1" fill="#111"/>
<text x="1960.8" y="671.6" font-size="13.3" fill="#111" font-family='"Liberation Sans", sans-serif'>1.07150</text>
<rect x="1954" y="727.5" width="4" height="1" fill="#111"/>
<text x="1960.8" y="733.2" font-size="13.3" fill="#111" font-family='"Liberation Sans", sans-serif'>1.05400</text>
<rect x="1954" y="789.2" width="4" height="1" fill="#111"/>
<text x="1960.8" y="794.9" font-size="13.3" fill="#111" font-family='"Liberation Sans", sans-serif'>1.03675</text>
<rect x="1955.4" y="104.4" width="59" height="15.8" fill="#000"/>
<text x="1960.8" y="117.4" font-size="13.3" fill="#fff" font-family='"Liberation Sans", sans-serif'>1.22758</text>
<text x="1957.7" y="839.9" font-size="13.3" fill="#111" font-family='"Liberation Sans", sans-serif'>100</text>
<text x="1958" y="1126" font-size="13.3" fill="#111" font-family='"Liberation Sans", sans-serif'>0</text>
<rect x="1956" y="878.9" width="16.7" height="16" fill="#000"/>
<text x="1956.9" y="892.1" font-size="13.3" fill="#fff" font-family='"Liberation Sans", sans-serif'>80</text>
<rect x="1956" y="1061.1" width="16.7" height="16" fill="#000"/>
<text x="1956.9" y="1074.3" font-size="13.3" fill="#fff" font-family='"Liberation Sans", sans-serif'>20</text>
<rect x="85.5" y="1130" width="1" height="4.5" fill="#111"/>
<text x="85.5" y="1147.4" font-size="13.3" fill="#111" font-family='"Liberation Sans", sans-serif'>21 Sep 09:15</text>
<rect x="206.9" y="1130" width="1" height="4.5" fill="#111"/>
<text x="206.9" y="1147.4" font-size="13.3" fill="#111" font-family='"Liberation Sans", sans-serif'>28 Sep 13:15</text>
<rect x="328.3" y="1130" width="1" height="4.5" fill="#111"/>
<text x="328.3" y="1147.4" font-size="13.3" fill="#111" font-family='"Liberation Sans", sans-serif'>5 Oct 17:15</text>
<rect x="449.7" y="1130" width="1" height="4.5" fill="#111"/>
<text x="449.7" y="1147.4" font-size="13.3" fill="#111" font-family='"Liberation Sans", sans-serif'>12 Oct 21:15</text>
<rect x="571.2" y="1130" width="1" height="4.5" fill="#111"/>
<text x="571.2" y="1147.4" font-size="13.3" fill="#111" font-family='"Liberation Sans", sans-serif'>20 Oct 00:00</text>
<rect x="692.6" y="1130" width="1" height="4.5" fill="#111"/>
<text x="692.6" y="1147.4" font-size="13.3" fill="#111" font-family='"Liberation Sans", sans-serif'>27 Oct 04:00</text>
<rect x="814" y="1130" width="1" height="4.5" fill="#111"/>
<text x="814" y="1147.4" font-size="13.3" fill="#111" font-family='"Liberation Sans", sans-serif'>3 Nov 09:15</text>
<rect x="935.4" y="1130" width="1" height="4.5" fill="#111"/>
<text x="935.4" y="1147.4" font-size="13.3" fill="#111" font-family='"Liberation Sans", sans-serif'>10 Nov 14:15</text>
<rect x="1056.8" y="1130" width="1" height="4.5" fill="#111"/>
<text x="1056.8" y="1147.4" font-size="13.3" fill="#111" font-family='"Liberation Sans", sans-serif'>17 Nov 18:15</text>
<rect x="1178.2" y="1130" width="1" height="4.5" fill="#111"/>
<text x="1178.2" y="1147.4" font-size="13.3" fill="#111" font-family='"Liberation Sans", sans-serif'>24 Nov 22:15</text>
<rect x="1299.7" y="1130" width="1" height="4.5" fill="#111"/>
<text x="1299.7" y="1147.4" font-size="13.3" fill="#111" font-family='"Liberation Sans", sans-serif'>2 Dec 00:00</text>
<rect x="1421.1" y="1130" width="1" height="4.5" fill="#111"/>
<text x="1421.1" y="1147.4" font-size="13.3" fill="#111" font-family='"Liberation Sans", sans-serif'>9 Dec 04:00</text>
<text x="23.3" y="1147.4" font-size="13.3" fill="#111" font-family='"Liberation Sans", sans-serif'>:00</text>
<rect x="23" y="1158" width="1999" height="16.5" fill="#f0f0f0"/>
<rect x="23" y="1157.4" width="1999" height="1.4" fill="#333"/>
<clipPath id="tabclip"><rect x="23" y="1159" width="1999" height="15"/></clipPath>
<g clip-path="url(#tabclip)">
<text x="19.7" y="1177.3" font-size="16.8" fill="#6e6e6e" font-family='"Liberation Sans", sans-serif'>px M30</text>
<rect x="91.5" y="1160.5" width="1" height="14" fill="#666"/>
<text x="108.2" y="1177.3" font-size="16.8" fill="#6e6e6e" font-family='"Liberation Sans", sans-serif'>XAGUSD mx H1</text>
<rect x="250.5" y="1160.5" width="1" height="14" fill="#666"/>
<text x="266" y="1177.3" font-size="16.8" fill="#6e6e6e" font-family='"Liberation Sans", sans-serif'>XTIUSD mx H1</text>
<rect x="398.8" y="1160.5" width="1" height="14" fill="#666"/>
<text x="414" y="1177.3" font-size="16.8" fill="#6e6e6e" font-family='"Liberation Sans", sans-serif'>GBPJPY mx Daily</text>
<rect x="565.7" y="1160.5" width="1" height="14" fill="#666"/>
<text x="581" y="1177.3" font-size="16.8" fill="#6e6e6e" font-family='"Liberation Sans", sans-serif'>USDJPY mx H4</text>
<rect x="713.9" y="1160.5" width="1" height="14" fill="#666"/>
<text x="730" y="1177.3" font-size="16.8" fill="#6e6e6e" font-family='"Liberation Sans", sans-serif'>GBPAUD mx H1</text>
<rect x="873.5" y="1160.5" width="1" height="14" fill="#666"/>
<text x="889" y="1177.3" font-size="16.8" fill="#6e6e6e" font-family='"Liberation Sans", sans-serif'>AUDUSD mx M5</text>
<rect x="1036.5" y="1160.5" width="1" height="14" fill="#666"/>
<text x="1052" y="1177.3" font-size="16.8" textLength="141.6" lengthAdjust="spacingAndGlyphs" fill="#6e6e6e" font-family='"Liberation Sans", sans-serif'>NZDUSD mx M15</text>
<rect x="1211" y="1160.5" width="1" height="14" fill="#666"/>
<text x="1226" y="1177.3" font-size="16.8" textLength="125.9" lengthAdjust="spacingAndGlyphs" fill="#6e6e6e" font-family='"Liberation Sans", sans-serif'>USDCAD mx H1</text>
<rect x="1370.2" y="1160.5" width="1" height="14" fill="#666"/>
<text x="1385" y="1177.3" font-size="16.8" fill="#6e6e6e" font-family='"Liberation Sans", sans-serif'>EURUSD mx H1</text>
<rect x="1525.5" y="1160.5" width="1" height="14" fill="#666"/>
</g>
<polygon points="1978.8,1169.8 1983.7,1165.2 1983.7,1174.4" fill="#9298a0"/><polygon points="2011,1169.8 2006,1165.2 2006,1174.4" fill="#9298a0"/>
<text x="1634.5" y="1122.3" font-size="30" fill="#b4b4b4" textLength="192" lengthAdjust="spacingAndGlyphs" font-family='"Liberation Sans", "Noto Sans CJK SC", sans-serif'>激活 Windows</text>
<text x="1635" y="1151.7" font-size="20" fill="#b4b4b4" textLength="270" lengthAdjust="spacingAndGlyphs" font-family='"Liberation Sans", "Noto Sans CJK SC", sans-serif'>转到"设置"以激活 Windows。</text>
<polygon points="23,20 135.7,20 23,132.7" fill="#00aeff" fill-opacity="0.5"/>
<polygon points="2023.2,1062.8 2023.2,1174.5 1911.5,1174.5" fill="#00aeff" fill-opacity="0.5"/>
<rect x="23" y="1174" width="1999" height="21" fill="#00b1ff"/>
<rect x="0" y="0" width="23.7" height="1200" fill="#fff"/>
<text x="79.5" y="1255.9" font-size="38.4" fill="#000" textLength="457" lengthAdjust="spacingAndGlyphs" font-family='"Liberation Sans", "Noto Sans CJK SC", sans-serif'>隔壁老王-英镑4小时图分析</text>
<text x="79.5" y="1303.2" font-size="36" fill="#000" textLength="196" lengthAdjust="spacingAndGlyphs" font-family='"Liberation Sans", sans-serif'>2022-12-13</text>
</svg>
</body></html>
